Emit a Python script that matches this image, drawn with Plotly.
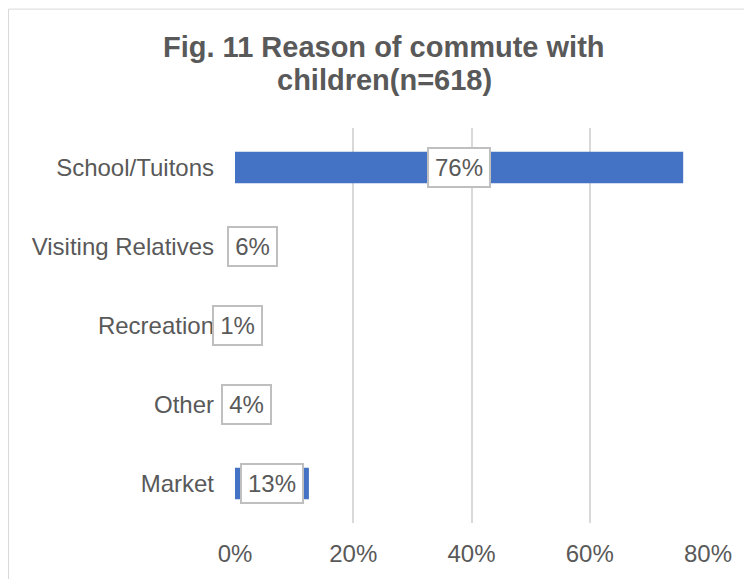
import plotly.graph_objects as go

categories = ["School/Tuitons", "Visiting Relatives", "Recreation", "Other", "Market"]
values = [75.8, 6, 1, 4, 12.5]
labels = ["76%", "6%", "1%", "4%", "13%"]
x_ticks = [0, 20, 40, 60, 80]
x_tick_labels = ["0%", "20%", "40%", "60%", "80%"]
title_lines = ["Fig. 11 Reason of commute with", "children(n=618)"]

FONT = "Liberation Sans, Arial, sans-serif"
GRID = "#d9d9d9"
TEXT = "#595959"

# page has an 8px body margin; figure is sized to fill the rest of the window
W, H = 744, 571
ML, MR, MT, MB = 227, 44, 120, 54
PW, PH = W - ML - MR, H - MT - MB

fig = go.Figure()
fig.add_trace(go.Bar(
    x=values, y=categories, orientation="h",
    marker=dict(color="#4472C4", line=dict(width=0)),
    hoverinfo="skip",
))

def label_width(t):
    w = 0
    for ch in t:
        w += 20.9 if ch == "%" else 13.1
    return round(w + 3)

for v, c, t in zip(values, categories, labels):
    fig.add_annotation(
        x=v / 2, y=c, text=t, showarrow=False,
        xref="x", yref="y",
        font=dict(family=FONT, size=24, color=TEXT),
        bgcolor="white", bordercolor="#bfbfbf", borderwidth=2, borderpad=5,
        width=label_width(t),
    )

# chart title, two lines with tight line spacing
title_centers_px = [39, 72]
for line, cy in zip(title_lines, title_centers_px):
    fig.add_annotation(
        x=(376 - ML) / PW, y=(MT + PH - cy) / PH, xref="paper", yref="paper",
        xanchor="center", yanchor="middle", text=f"<b>{line}</b>", showarrow=False,
        font=dict(family=FONT, size=29, color=TEXT),
    )

fig.update_layout(
    width=W, height=H,
    margin=dict(l=ML, r=MR, t=MT, b=MB),
    paper_bgcolor="white", plot_bgcolor="white",
    bargap=0.6,
    showlegend=False,
    font=dict(family=FONT, size=24, color=TEXT),
)

fig.update_xaxes(
    range=[0, 80], tickvals=x_ticks, ticktext=x_tick_labels,
    showgrid=True, gridcolor=GRID, gridwidth=2,
    zeroline=False, showline=False,
    tickfont=dict(family=FONT, size=24, color=TEXT),
    ticks="", ticklabelstandoff=14,
)
fig.update_yaxes(
    autorange="reversed", showgrid=False, zeroline=False, showline=False,
    tickfont=dict(family=FONT, size=24, color=TEXT),
    ticks="", ticklabelstandoff=20,
)

# outer chart border (cropped at right/bottom)
fig.add_shape(type="rect", xref="paper", yref="paper",
              x0=(0.5 - ML) / PW, x1=2.0,
              y0=-1.0, y1=(MT + PH - 0.5) / PH,
              line=dict(color=GRID, width=1), fillcolor="rgba(0,0,0,0)", layer="below")

fig.write_html("out.html")
